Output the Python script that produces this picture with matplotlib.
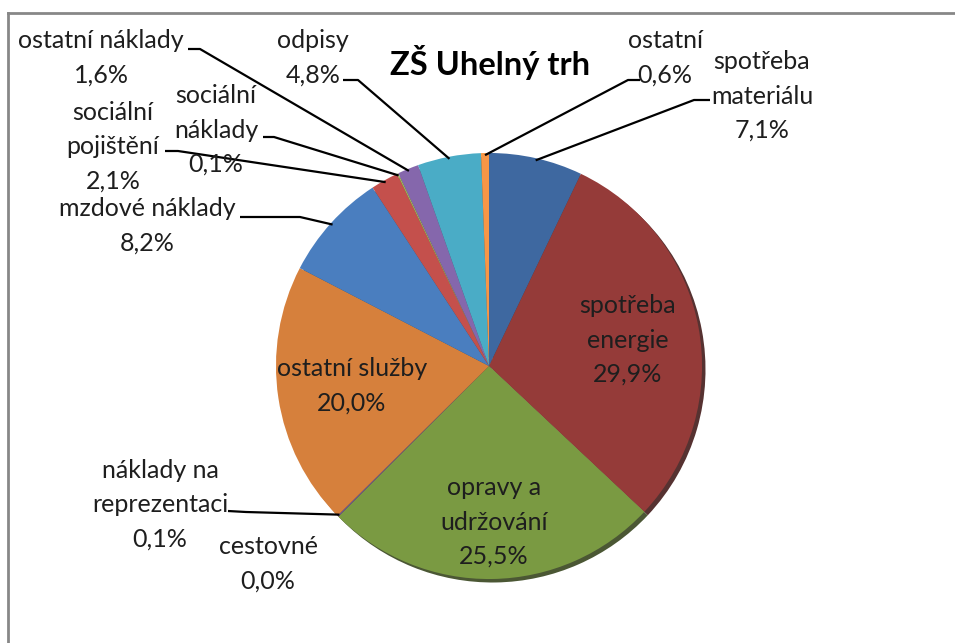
import matplotlib
matplotlib.use("Agg")
import numpy as np
import matplotlib.pyplot as plt
from matplotlib.lines import Line2D

# Data (clockwise from 12 o'clock)
categories = ["spotřeba\nmateriálu", "spotřeba\nenergie", "opravy a\nudržování",
              "náklady na\nreprezentaci", "cestovné", "ostatní služby",
              "mzdové náklady", "sociální\npojištění", "sociální\nnáklady",
              "ostatní náklady", "odpisy", "ostatní"]
values = [7.1, 29.9, 25.5, 0.1, 0.0, 20.0, 8.2, 2.1, 0.1, 1.6, 4.8, 0.6]
title = "ZŠ Uhelný trh"

colors = ["#3E68A0", "#953B39", "#7A9A42", "#6A5790", "#3A93AE", "#D6803C",
          "#4A7EBF", "#C4504C", "#9BBB59", "#8567AC", "#4AACC6", "#F79646"]
explode = [0.025, 0.035, 0.025, 0.02, 0.02, 0.025, 0.025, 0.02, 0.02, 0.02, 0.02, 0.02]

W, H = 955, 643
FONT = ["Lato", "DejaVu Sans"]


def P(x, y):
    # pixel coords (y down) -> data coords
    return x, H - y


fig = plt.figure(figsize=(W / 100, H / 100), dpi=100)
ax = fig.add_axes([0, 0, 1, 1])

cx, cy = P(489, 366)
R = 213
wedges, _ = ax.pie(values, colors=colors, startangle=90, counterclock=False,
                   explode=explode, center=(cx, cy), radius=R, frame=True,
                   wedgeprops=dict(linewidth=0, zorder=2),
                   shadow=dict(ox=2.5, oy=-2.5, shade=0.55, alpha=0.9, zorder=1))
ax.set_xlim(0, W)
ax.set_ylim(0, H)
ax.set_aspect("equal")
ax.axis("off")


def wedge_point(i, frac=1.0):
    w = wedges[i]
    a = np.deg2rad((w.theta1 + w.theta2) / 2)
    x0, y0 = w.center
    return x0 + w.r * frac * np.cos(a), y0 + w.r * frac * np.sin(a)


def pct(v):
    return f"{v:.1f}%".replace(".", ",")


# outside labels: index -> (text centre px, leader start px, elbow px)
outside = {
    0: ((762, 96), (710, 100), (694, 100)),
    11: ((665, 58), (640, 80), (628, 80)),
    10: ((313, 58), (343, 80), (358, 80)),
    9: ((101, 58), (188, 49), (200, 49)),
    8: ((216, 130), (263, 137), (274, 137)),
    7: ((113, 147), (165, 151), (178, 151)),
    6: ((147, 226), (240, 217), (300, 217)),
    3: ((160, 505), (228, 511), (246, 512)),
}
fs = 18
ls = 1.6
tcol = "#1e1e1e"
for i, (tc, s, e) in outside.items():
    ax.text(*P(*tc), f"{categories[i]}\n{pct(values[i])}", ha="center", va="center",
            fontsize=fs, family=FONT, color=tcol, linespacing=ls, zorder=5)
    wx, wy = wedge_point(i, 0.99)
    xs = [P(*s)[0], P(*e)[0], wx]
    ys = [P(*s)[1], P(*e)[1], wy]
    ax.plot(xs, ys, color="black", lw=1.6, zorder=4, solid_capstyle="butt")

# cestovné has no leader line
ax.text(*P(268, 564), f"{categories[4]}\n{pct(values[4])}", ha="center", va="center",
        fontsize=fs, family=FONT, color=tcol, linespacing=ls, zorder=5)

# inside labels
inside = {1: (628, 340), 5: (352, 386), 2: (494, 522)}
for i, tc in inside.items():
    ax.text(*P(*tc), f"{categories[i]}\n{pct(values[i])}", ha="center", va="center",
            fontsize=fs, family=FONT, color=tcol, linespacing=ls, zorder=5)

ax.text(*P(490, 62), title, ha="center", va="center", fontsize=23.5,
        fontweight="bold", family=FONT, color="black", zorder=5)

# chart frame (top and left edges are visible)
fig.add_artist(Line2D([8 / W, 1.01], [1 - 13 / H, 1 - 13 / H], color="#878787", lw=2))
fig.add_artist(Line2D([8 / W, 8 / W], [-0.01, 1 - 13 / H], color="#878787", lw=2))

fig.savefig("out.png", dpi=100, facecolor="white")
